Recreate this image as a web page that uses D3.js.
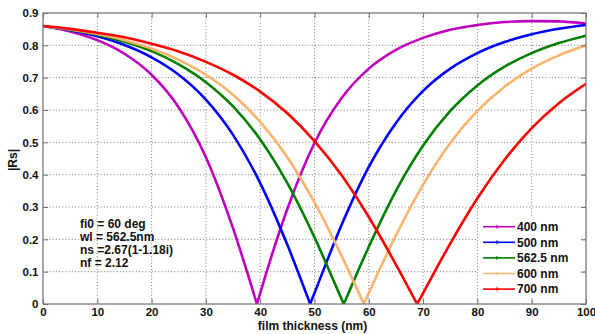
<!DOCTYPE html>
<html>
<head>
<meta charset="utf-8">
<script src="https://cdn.jsdelivr.net/npm/d3@7"></script>
<style>
  html, body { margin: 0; padding: 0; background: #fff; }
  svg { display: block; font-family: "Liberation Sans", Arial, Helvetica, sans-serif; }
</style>
</head>
<body>
<svg id="chart" width="595" height="334"></svg>
<script>
// |Rs| of a thin film versus film thickness, one curve per wavelength
const seriesNames = ["400 nm", "500 nm", "562.5 nm", "600 nm", "700 nm"];
const seriesColors = ["#bf00bf", "#0000ff", "#007f00", "#f9b46e", "#ff0000"];
const thicknessGrid = [0, 5, 10, 15, 20, 25, 30, 35, 40, 45, 50, 55, 60, 65, 70, 75, 80, 85, 90, 95, 100];
// thickness where each curve touches zero
const minThickness = [39.4, 49.2, 55.4, 59.1, 68.9];

const rs400 = [0.860, 0.843, 0.816, 0.774, 0.709, 0.608, 0.454, 0.234, 0.034, 0.294, 0.498, 0.637, 0.728, 0.786, 0.823, 0.848, 0.863, 0.872, 0.875, 0.874, 0.867];
const rs500 = [0.860, 0.847, 0.828, 0.801, 0.763, 0.709, 0.632, 0.523, 0.374, 0.183, 0.034, 0.245, 0.424, 0.560, 0.659, 0.728, 0.776, 0.810, 0.834, 0.851, 0.863];
const rs562 = [0.860, 0.848, 0.833, 0.811, 0.782, 0.741, 0.686, 0.611, 0.509, 0.374, 0.206, 0.015, 0.177, 0.350, 0.490, 0.597, 0.676, 0.734, 0.776, 0.807, 0.830];
const rs600 = [0.860, 0.849, 0.835, 0.816, 0.790, 0.755, 0.709, 0.647, 0.563, 0.454, 0.314, 0.148, 0.034, 0.212, 0.369, 0.498, 0.597, 0.672, 0.728, 0.769, 0.800];
const rs700 = [0.860, 0.851, 0.839, 0.825, 0.805, 0.781, 0.749, 0.709, 0.657, 0.590, 0.504, 0.398, 0.269, 0.122, 0.034, 0.187, 0.327, 0.446, 0.544, 0.621, 0.681];
const seriesValues = [rs400, rs500, rs562, rs600, rs700];

const xTicks = [0, 10, 20, 30, 40, 50, 60, 70, 80, 90, 100];
const yTicks = [0, 0.1, 0.2, 0.3, 0.4, 0.5, 0.6, 0.7, 0.8, 0.9];
const noteLines = ["fi0 = 60 deg", "wl = 562.5nm", "ns =2.67(1-1.18i)", "nf = 2.12"];

const svg = d3.select("#chart");
const plotLeft = 43, plotRight = 586, plotTop = 13, plotBottom = 304;
const x = d3.scaleLinear().domain([0, 100]).range([plotLeft, plotRight]);
const y = d3.scaleLinear().domain([0, 0.9]).range([plotBottom, plotTop]);

// dotted grid
const grid = svg.append("g").attr("stroke", "#6a6a6a").attr("stroke-width", 0.9)
  .attr("stroke-dasharray", "1,2.2");
grid.selectAll("line.v").data(xTicks.slice(1, -1)).join("line").attr("class", "v")
  .attr("x1", d => x(d)).attr("x2", d => x(d)).attr("y1", plotTop).attr("y2", plotBottom);
grid.selectAll("line.h").data(yTicks.slice(1, -1)).join("line").attr("class", "h")
  .attr("x1", plotLeft).attr("x2", plotRight).attr("y1", d => y(d)).attr("y2", d => y(d));

// curves, each split at its zero so the notch stays sharp
svg.append("clipPath").attr("id", "plotclip").append("rect")
  .attr("x", plotLeft).attr("y", plotTop - 2).attr("width", plotRight - plotLeft).attr("height", plotBottom - plotTop + 2);
const line = d3.line().x(d => x(d[0])).y(d => y(d[1])).curve(d3.curveMonotoneX);
const curves = svg.append("g").attr("clip-path", "url(#plotclip)");
seriesValues.forEach((vals, i) => {
  const xm = minThickness[i];
  const pts = thicknessGrid.map((t, j) => [t, vals[j]]);
  const down = pts.filter(p => p[0] < xm).concat([[xm, 0]]);
  const up = [[xm, 0]].concat(pts.filter(p => p[0] > xm));
  [down, up].forEach(branch => {
    curves.append("path").attr("d", line(branch)).attr("fill", "none")
      .attr("stroke", seriesColors[i]).attr("stroke-width", 2.6)
      .attr("stroke-linejoin", "round");
  });
});

// axes with inward ticks on all four sides
const fontSize = "11.5px";
const gx = svg.append("g").attr("transform", `translate(0,${plotBottom})`)
  .call(d3.axisBottom(x).tickValues(xTicks).tickSize(-5).tickPadding(4).tickFormat(d3.format("d")));
const gy = svg.append("g").attr("transform", `translate(${plotLeft},0)`)
  .call(d3.axisLeft(y).tickValues(yTicks).tickSize(-5).tickPadding(4.5).tickFormat(d => d === 0 ? "0" : d3.format(".1f")(d)));
const gt = svg.append("g").attr("transform", `translate(0,${plotTop})`)
  .call(d3.axisTop(x).tickValues(xTicks).tickSize(-5).tickFormat(""));
const gr = svg.append("g").attr("transform", `translate(${plotRight},0)`)
  .call(d3.axisRight(y).tickValues(yTicks).tickSize(-5).tickFormat(""));
[gx, gy, gt, gr].forEach(g => {
  g.select(".domain").remove();
  g.selectAll(".tick line").attr("stroke", "#707070");
  g.selectAll("text").attr("fill", "#111").attr("font-size", fontSize).attr("font-weight", "bold")
    .attr("font-family", "'Liberation Sans', Arial, sans-serif");
});

// frame
svg.append("rect").attr("x", plotLeft).attr("y", plotTop).attr("width", plotRight - plotLeft).attr("height", plotBottom - plotTop)
  .attr("fill", "none").attr("stroke", "#707070").attr("stroke-width", 1.2);

// axis titles
svg.append("text").attr("x", (plotLeft + plotRight) / 2 - 2).attr("y", 330).attr("text-anchor", "middle")
  .attr("font-size", "12px").attr("font-weight", "bold").attr("fill", "#111").text("film thickness (nm)");
svg.append("text").attr("transform", "translate(16.5,160) rotate(-90)").attr("text-anchor", "middle")
  .attr("font-size", "12px").attr("font-weight", "bold").attr("fill", "#111").text("|Rs|");

// parameter note
svg.append("g").selectAll("text").data(noteLines).join("text")
  .attr("x", 80).attr("y", (d, i) => 227.5 + i * 13.1)
  .attr("font-size", "12px").attr("font-weight", "bold").attr("fill", "#111").text(d => d);

// legend
const legend = svg.append("g");
legend.append("rect").attr("x", 478).attr("y", 218).attr("width", 103).attr("height", 80).attr("fill", "#fff");
seriesNames.forEach((name, i) => {
  const cy = 226.7 + i * 15.6;
  legend.append("line").attr("x1", 483).attr("x2", 515).attr("y1", cy).attr("y2", cy)
    .attr("stroke", seriesColors[i]).attr("stroke-width", 1.6);
  legend.append("path").attr("d", `M${497},${cy - 2}V${cy + 2}M${495},${cy}H${499}`)
    .attr("stroke", seriesColors[i]).attr("stroke-width", 1);
  legend.append("text").attr("x", 517).attr("y", cy + 4.2).attr("font-size", "12px").attr("font-weight", "bold")
    .attr("fill", "#111").text(name);
});
</script>
</body>
</html>
